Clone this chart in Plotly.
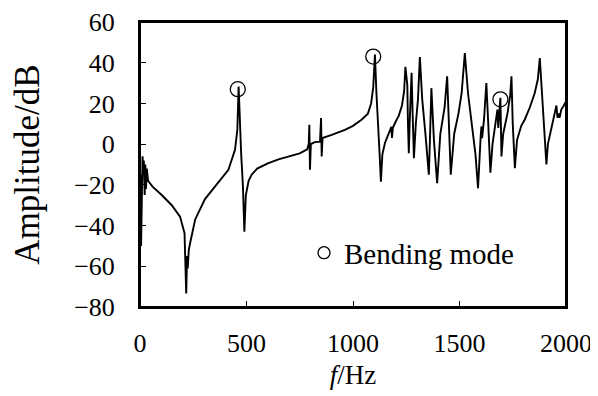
import plotly.graph_objects as go

# Frequency response
freq_hz = [0, 2, 5, 8, 12, 15, 18, 22, 25, 28, 32, 38, 45, 60, 102, 149, 188, 209, 217, 221, 224, 229, 235, 259, 305, 368,
           415, 446, 457, 463, 468, 475, 483, 490, 497, 510, 524, 550, 600, 650, 700, 750, 785, 792, 795, 798, 802, 820,
           845, 850, 853, 857, 900, 962, 1000, 1040, 1070, 1085, 1095, 1103, 1110, 1118, 1125, 1131, 1138, 1150, 1170,
           1180, 1183, 1187, 1200, 1215, 1230, 1240, 1246, 1252, 1255, 1258, 1262, 1266, 1275, 1280, 1286, 1295, 1305,
           1314, 1325, 1340, 1356, 1362, 1368, 1380, 1395, 1410, 1430, 1442, 1450, 1459, 1475, 1495, 1510, 1525, 1540,
           1560, 1575, 1587, 1595, 1600, 1603, 1606, 1615, 1626, 1635, 1645, 1655, 1670, 1678, 1682, 1686, 1690, 1692,
           1694, 1697, 1705, 1725, 1738, 1744, 1750, 1760, 1770, 1790, 1806, 1830, 1853, 1868, 1877, 1890, 1900, 1908,
           1915, 1931, 1950, 1955, 1960, 1965, 1970, 1978, 1990, 2000]
amp_db = [-20, -15, -50, -20, -6, -12, -8, -25, -10, -22, -12, -18, -19, -21, -25, -30, -35.6, -43.7, -73.3, -55, -61, -52,
          -48.7, -37, -27, -19, -12.6, -2.8, 7, 28.3, 10, -5, -20, -43, -25, -18, -15, -12, -9.5, -7.5, -6, -4.5, -2.5,
          0, 9.5, -12.6, 0, 1, 1.2, 12.8, -6, 3, 4.5, 7, 9, 12, 15, 20, 28, 44, 25, 5, -5, -18.4, -5, 0.6, 6, 8.5, 3,
          8, 11, 14, 19, 26, 38, 29, 29, 10, -4.4, 10, 35, 15, -6.9, 10, 22, 42.8, 22, 5, -15, 5, 27.5, 2, -19.2, 5,
          18, 33.3, 10, -15, 5, 15, 25, 44.7, 25, 8, -5, -21.7, 0, 5, 8.7, 3, 12, 30, 10, -14, 0, 10, 17, 8, 18, 20,
          22.8, 5, -6, 5, 15, 24, 33.3, 10, -11.8, 2, 9, 12, 18, 25, 32, 42.3, 20, 5, -10, 0, 7, 16, 19, 13, 15, 13,
          17, 19, 21]

# Bending modes (circled peaks)
mode_freq = [459, 1095, 1692]
mode_amp = [27, 43, 22]
mode_label = "Bending mode"

x_ticks = [0, 500, 1000, 1500, 2000]
y_ticks = [-80, -60, -40, -20, 0, 20, 40, 60]

FONT = "Liberation Serif"

fig = go.Figure()
fig.add_trace(go.Scatter(x=freq_hz, y=amp_db, mode="lines",
                         line=dict(color="black", width=1.9),
                         showlegend=False, hoverinfo="skip"))
fig.add_trace(go.Scatter(x=mode_freq, y=mode_amp, mode="markers", name=mode_label,
                         legendgroup="modes", showlegend=False,
                         marker=dict(symbol="circle-open", size=15, color="black",
                                     line=dict(color="black", width=1.3))))
# legend entry (smaller symbol as in the reference)
fig.add_trace(go.Scatter(x=[None], y=[None], mode="markers", name=mode_label,
                         legendgroup="modes", showlegend=True,
                         marker=dict(symbol="circle-open", size=12, color="black",
                                     line=dict(color="black", width=1.3))))

axis_common = dict(showgrid=False, zeroline=False, showline=True, linecolor="black", linewidth=2,
                   mirror=True, ticks="inside", ticklen=6, tickwidth=1.3, tickcolor="black",
                   ticklabeloverflow="allow", automargin=False,
                   tickfont=dict(family=FONT, size=26, color="black"))

# plot frame
fig.add_shape(type="rect", xref="paper", yref="paper", x0=0, x1=1, y0=0, y1=1,
              line=dict(color="black", width=2), fillcolor="rgba(0,0,0,0)", layer="above")

fig.update_layout(
    width=598, height=396,
    margin=dict(l=132, r=40, t=14, b=97),
    paper_bgcolor="white", plot_bgcolor="white",
    font=dict(family=FONT, size=26, color="black"),
    xaxis=dict(range=[0, 2000], tickvals=x_ticks, ticklabelstandoff=12,
               title=dict(text="<i>f</i>/Hz", font=dict(family=FONT, size=27), standoff=8),
               **axis_common),
    yaxis=dict(range=[-80, 60], tickvals=y_ticks, ticklabelstandoff=18,
               title=dict(text="Amplitude/dB", font=dict(family=FONT, size=35), standoff=31),
               **axis_common),
    legend=dict(x=0.385, y=0.19, xanchor="left", yanchor="middle", bgcolor="rgba(0,0,0,0)",
                font=dict(family=FONT, size=29), itemwidth=30),
    showlegend=True,
)

fig.write_html("out.html", config={"displayModeBar": False})
